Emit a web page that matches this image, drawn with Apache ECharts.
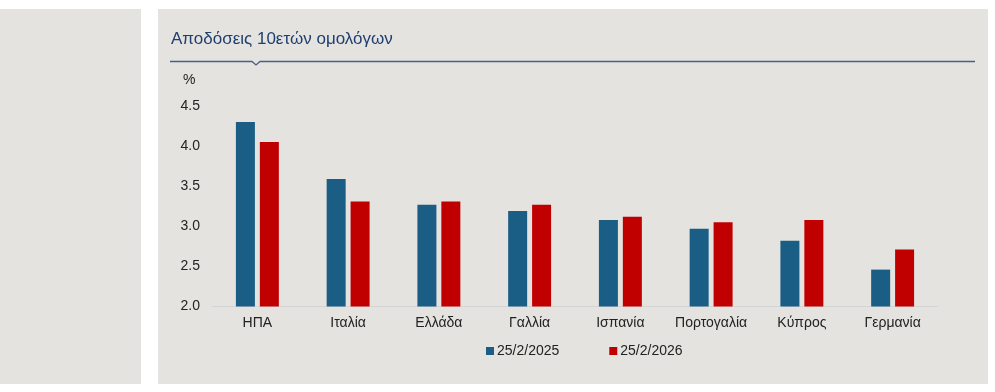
<!DOCTYPE html>
<html>
<head>
<meta charset="utf-8">
<script src="https://cdn.jsdelivr.net/npm/echarts@6/dist/echarts.min.js"></script>
<style>
html,body{margin:0;padding:0;background:#ffffff;}
#c{width:995px;height:392px;}
</style>
</head>
<body>
<div id="c"></div>
<script>
const titleText = 'Αποδόσεις 10ετών ομολόγων';
const unitLabel = '%';
const categories = ['ΗΠΑ','Ιταλία','Ελλάδα','Γαλλία','Ισπανία','Πορτογαλία','Κύπρος','Γερμανία'];
const seriesNames = ['25/2/2025','25/2/2026'];
const values2025 = [4.30, 3.59, 3.27, 3.19, 3.08, 2.97, 2.82, 2.46];
const values2026 = [4.05, 3.31, 3.31, 3.27, 3.12, 3.05, 3.08, 2.71];
const yMin = 2.0, yMax = 4.5, yInterval = 0.5;

const panelColor = '#e5e3df';
const chart = echarts.init(document.getElementById('c'), null, {renderer:'canvas'});
const font = 'Liberation Sans, Arial, sans-serif';
chart.setOption({
  backgroundColor: '#ffffff',
  animation: false,
  graphic: [
    {type:'rect', z:-10, shape:{x:0,y:9,width:141,height:375}, style:{fill:panelColor}},
    {type:'rect', z:-10, shape:{x:158,y:9,width:830,height:375}, style:{fill:panelColor}},
    {type:'polyline', z:5, shape:{points:[[170,61.5],[252,61.5],[256,65],[260,61.5],[975,61.5]]}, style:{stroke:'#4a5f82', lineWidth:1.3, fill:null}},
    {type:'text', z:5, left:183, top:73, style:{text:unitLabel, fontSize:14, fontFamily:font, fill:'#222'}}
  ],
  title: {
    text: titleText, left: 166, top: 26,
    textStyle: {fontSize:17, fontWeight:'normal', color:'#1f3f6e', fontFamily:font}
  },
  legend: {
    left: 486, top: 344, padding: 0, itemWidth: 8, itemHeight: 8, itemGap: 50,
    icon: 'rect',
    textStyle: {fontSize:14, color:'#222', fontFamily:font, padding:[0,0,0,-2]},
    data: seriesNames
  },
  grid: {left:212, right:57, top:106, bottom:85.5, containLabel:false},
  xAxis: {
    type:'category', data: categories,
    axisLine:{show:true, lineStyle:{color:'#d4d4d4', width:1}},
    axisTick:{show:false},
    axisLabel:{fontSize:14, color:'#222', fontFamily:font, margin:10, interval:0}
  },
  yAxis: {
    type:'value', min:yMin, max:yMax, interval:yInterval,
    splitLine:{show:false}, axisLine:{show:false}, axisTick:{show:false},
    axisLabel:{fontSize:14, color:'#222', fontFamily:font, margin:12,
      formatter: v => v.toFixed(1)}
  },
  series: [
    {name:seriesNames[0], type:'bar', data: values2025, barWidth:19, barGap:'26%',
     itemStyle:{color:'#1a5d85'}},
    {name:seriesNames[1], type:'bar', data: values2026, barWidth:19, barGap:'26%',
     itemStyle:{color:'#c00000'}}
  ]
});
</script>
</body>
</html>
